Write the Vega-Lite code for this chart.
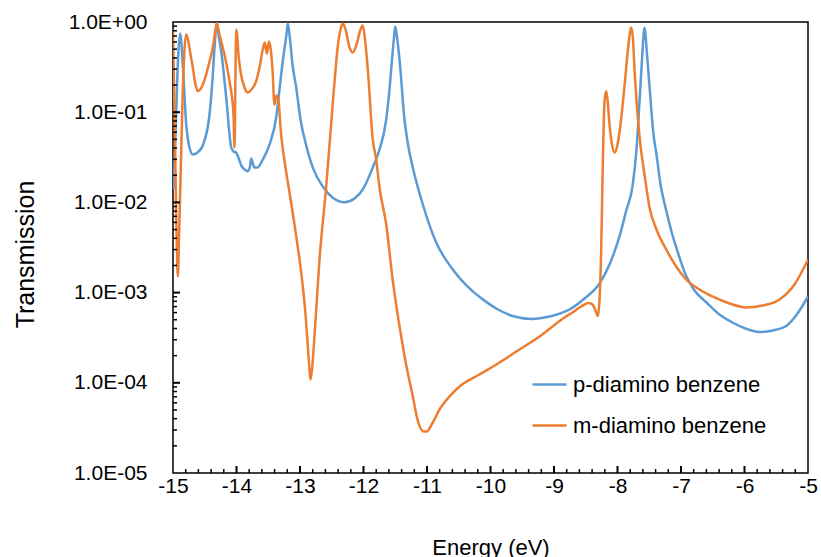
{
  "$schema": "https://vega.github.io/schema/vega-lite/v6.json",
  "autosize": "none",
  "padding": {"left": 173, "top": 22, "right": 13, "bottom": 84},
  "width": 635,
  "height": 451,
  "background": "white",
  "config": {
    "view": {"stroke": "black", "strokeWidth": 1.5},
    "font": "Liberation Sans"
  },
  "datasets": {
    "curves": [
      {"series": "p-diamino benzene", "energy": -14.992, "transmission": 0.0139},
      {"series": "p-diamino benzene", "energy": -14.953, "transmission": 0.083},
      {"series": "p-diamino benzene", "energy": -14.921, "transmission": 0.384},
      {"series": "p-diamino benzene", "energy": -14.887, "transmission": 0.746},
      {"series": "p-diamino benzene", "energy": -14.846, "transmission": 0.338},
      {"series": "p-diamino benzene", "energy": -14.792, "transmission": 0.0731},
      {"series": "p-diamino benzene", "energy": -14.74, "transmission": 0.0406},
      {"series": "p-diamino benzene", "energy": -14.688, "transmission": 0.034},
      {"series": "p-diamino benzene", "energy": -14.614, "transmission": 0.0357},
      {"series": "p-diamino benzene", "energy": -14.531, "transmission": 0.0428},
      {"series": "p-diamino benzene", "energy": -14.425, "transmission": 0.0943},
      {"series": "p-diamino benzene", "energy": -14.378, "transmission": 0.23},
      {"series": "p-diamino benzene", "energy": -14.346, "transmission": 0.522},
      {"series": "p-diamino benzene", "energy": -14.31, "transmission": 0.96},
      {"series": "p-diamino benzene", "energy": -14.276, "transmission": 0.673},
      {"series": "p-diamino benzene", "energy": -14.241, "transmission": 0.471},
      {"series": "p-diamino benzene", "energy": -14.162, "transmission": 0.1455},
      {"series": "p-diamino benzene", "energy": -14.083, "transmission": 0.0406},
      {"series": "p-diamino benzene", "energy": -14.047, "transmission": 0.0367},
      {"series": "p-diamino benzene", "energy": -14.008, "transmission": 0.0357},
      {"series": "p-diamino benzene", "energy": -13.976, "transmission": 0.0323},
      {"series": "p-diamino benzene", "energy": -13.926, "transmission": 0.0257},
      {"series": "p-diamino benzene", "energy": -13.874, "transmission": 0.0232},
      {"series": "p-diamino benzene", "energy": -13.822, "transmission": 0.0222},
      {"series": "p-diamino benzene", "energy": -13.787, "transmission": 0.025},
      {"series": "p-diamino benzene", "energy": -13.767, "transmission": 0.0307},
      {"series": "p-diamino benzene", "energy": -13.748, "transmission": 0.0277},
      {"series": "p-diamino benzene", "energy": -13.717, "transmission": 0.0244},
      {"series": "p-diamino benzene", "energy": -13.669, "transmission": 0.0244},
      {"series": "p-diamino benzene", "energy": -13.586, "transmission": 0.0299},
      {"series": "p-diamino benzene", "energy": -13.48, "transmission": 0.0438},
      {"series": "p-diamino benzene", "energy": -13.375, "transmission": 0.0873},
      {"series": "p-diamino benzene", "energy": -13.323, "transmission": 0.1786},
      {"series": "p-diamino benzene", "energy": -13.268, "transmission": 0.384},
      {"series": "p-diamino benzene", "energy": -13.217, "transmission": 0.691},
      {"series": "p-diamino benzene", "energy": -13.192, "transmission": 0.96},
      {"series": "p-diamino benzene", "energy": -13.157, "transmission": 0.64},
      {"series": "p-diamino benzene", "energy": -13.118, "transmission": 0.338},
      {"series": "p-diamino benzene", "energy": -13.06, "transmission": 0.188},
      {"series": "p-diamino benzene", "energy": -12.992, "transmission": 0.083},
      {"series": "p-diamino benzene", "energy": -12.902, "transmission": 0.0428},
      {"series": "p-diamino benzene", "energy": -12.787, "transmission": 0.0232},
      {"series": "p-diamino benzene", "energy": -12.641, "transmission": 0.015},
      {"series": "p-diamino benzene", "energy": -12.488, "transmission": 0.01133},
      {"series": "p-diamino benzene", "energy": -12.299, "transmission": 0.01005},
      {"series": "p-diamino benzene", "energy": -12.142, "transmission": 0.01105},
      {"series": "p-diamino benzene", "energy": -12.011, "transmission": 0.0139},
      {"series": "p-diamino benzene", "energy": -11.854, "transmission": 0.0244},
      {"series": "p-diamino benzene", "energy": -11.748, "transmission": 0.0386},
      {"series": "p-diamino benzene", "energy": -11.642, "transmission": 0.083},
      {"series": "p-diamino benzene", "energy": -11.591, "transmission": 0.1786},
      {"series": "p-diamino benzene", "energy": -11.551, "transmission": 0.384},
      {"series": "p-diamino benzene", "energy": -11.52, "transmission": 0.673},
      {"series": "p-diamino benzene", "energy": -11.501, "transmission": 0.892},
      {"series": "p-diamino benzene", "energy": -11.472, "transmission": 0.673},
      {"series": "p-diamino benzene", "energy": -11.433, "transmission": 0.384},
      {"series": "p-diamino benzene", "energy": -11.354, "transmission": 0.083},
      {"series": "p-diamino benzene", "energy": -11.291, "transmission": 0.0406},
      {"series": "p-diamino benzene", "energy": -11.224, "transmission": 0.0244},
      {"series": "p-diamino benzene", "energy": -11.066, "transmission": 0.00948},
      {"series": "p-diamino benzene", "energy": -10.855, "transmission": 0.00359},
      {"series": "p-diamino benzene", "energy": -10.594, "transmission": 0.0018},
      {"series": "p-diamino benzene", "energy": -10.279, "transmission": 0.00103},
      {"series": "p-diamino benzene", "energy": -10.1, "transmission": 0.00082},
      {"series": "p-diamino benzene", "energy": -9.91, "transmission": 0.000667},
      {"series": "p-diamino benzene", "energy": -9.622, "transmission": 0.000543},
      {"series": "p-diamino benzene", "energy": -9.339, "transmission": 0.00051},
      {"series": "p-diamino benzene", "energy": -9.071, "transmission": 0.000543},
      {"series": "p-diamino benzene", "energy": -8.9, "transmission": 0.000588},
      {"series": "p-diamino benzene", "energy": -8.756, "transmission": 0.00065},
      {"series": "p-diamino benzene", "energy": -8.52, "transmission": 0.00086},
      {"series": "p-diamino benzene", "energy": -8.283, "transmission": 0.00126},
      {"series": "p-diamino benzene", "energy": -8.126, "transmission": 0.00205},
      {"series": "p-diamino benzene", "energy": -7.969, "transmission": 0.00419},
      {"series": "p-diamino benzene", "energy": -7.858, "transmission": 0.00834},
      {"series": "p-diamino benzene", "energy": -7.764, "transmission": 0.015},
      {"series": "p-diamino benzene", "energy": -7.701, "transmission": 0.0386},
      {"series": "p-diamino benzene", "energy": -7.654, "transmission": 0.128},
      {"series": "p-diamino benzene", "energy": -7.614, "transmission": 0.384},
      {"series": "p-diamino benzene", "energy": -7.575, "transmission": 0.862},
      {"series": "p-diamino benzene", "energy": -7.535, "transmission": 0.436},
      {"series": "p-diamino benzene", "energy": -7.496, "transmission": 0.193},
      {"series": "p-diamino benzene", "energy": -7.433, "transmission": 0.0566},
      {"series": "p-diamino benzene", "energy": -7.386, "transmission": 0.034},
      {"series": "p-diamino benzene", "energy": -7.323, "transmission": 0.0158},
      {"series": "p-diamino benzene", "energy": -7.244, "transmission": 0.00878},
      {"series": "p-diamino benzene", "energy": -7.15, "transmission": 0.00476},
      {"series": "p-diamino benzene", "energy": -7.039, "transmission": 0.00265},
      {"series": "p-diamino benzene", "energy": -6.929, "transmission": 0.00159},
      {"series": "p-diamino benzene", "energy": -6.787, "transmission": 0.001055},
      {"series": "p-diamino benzene", "energy": -6.598, "transmission": 0.000777},
      {"series": "p-diamino benzene", "energy": -6.394, "transmission": 0.000572},
      {"series": "p-diamino benzene", "energy": -6.189, "transmission": 0.000466},
      {"series": "p-diamino benzene", "energy": -5.984, "transmission": 0.0004},
      {"series": "p-diamino benzene", "energy": -5.764, "transmission": 0.000366},
      {"series": "p-diamino benzene", "energy": -5.559, "transmission": 0.00038},
      {"series": "p-diamino benzene", "energy": -5.343, "transmission": 0.000426},
      {"series": "p-diamino benzene", "energy": -5.165, "transmission": 0.000586},
      {"series": "p-diamino benzene", "energy": -5, "transmission": 0.000906},
      {"series": "m-diamino benzene", "energy": -15, "transmission": 0.826},
      {"series": "m-diamino benzene", "energy": -14.969, "transmission": 0.0498},
      {"series": "m-diamino benzene", "energy": -14.945, "transmission": 0.00501},
      {"series": "m-diamino benzene", "energy": -14.924, "transmission": 0.00151},
      {"series": "m-diamino benzene", "energy": -14.906, "transmission": 0.00388},
      {"series": "m-diamino benzene", "energy": -14.882, "transmission": 0.01795},
      {"series": "m-diamino benzene", "energy": -14.85, "transmission": 0.138},
      {"series": "m-diamino benzene", "energy": -14.819, "transmission": 0.496},
      {"series": "m-diamino benzene", "energy": -14.792, "transmission": 0.727},
      {"series": "m-diamino benzene", "energy": -14.764, "transmission": 0.64},
      {"series": "m-diamino benzene", "energy": -14.732, "transmission": 0.471},
      {"series": "m-diamino benzene", "energy": -14.688, "transmission": 0.313},
      {"series": "m-diamino benzene", "energy": -14.646, "transmission": 0.203},
      {"series": "m-diamino benzene", "energy": -14.609, "transmission": 0.171},
      {"series": "m-diamino benzene", "energy": -14.551, "transmission": 0.188},
      {"series": "m-diamino benzene", "energy": -14.477, "transmission": 0.262},
      {"series": "m-diamino benzene", "energy": -14.425, "transmission": 0.365},
      {"series": "m-diamino benzene", "energy": -14.373, "transmission": 0.522},
      {"series": "m-diamino benzene", "energy": -14.339, "transmission": 0.765},
      {"series": "m-diamino benzene", "energy": -14.31, "transmission": 0.96},
      {"series": "m-diamino benzene", "energy": -14.268, "transmission": 0.727},
      {"series": "m-diamino benzene", "energy": -14.216, "transmission": 0.522},
      {"series": "m-diamino benzene", "energy": -14.157, "transmission": 0.338},
      {"series": "m-diamino benzene", "energy": -14.11, "transmission": 0.219},
      {"series": "m-diamino benzene", "energy": -14.071, "transmission": 0.1455},
      {"series": "m-diamino benzene", "energy": -14.047, "transmission": 0.0943},
      {"series": "m-diamino benzene", "energy": -14.031, "transmission": 0.0406},
      {"series": "m-diamino benzene", "energy": -14.019, "transmission": 0.1786},
      {"series": "m-diamino benzene", "energy": -14.005, "transmission": 0.826},
      {"series": "m-diamino benzene", "energy": -13.991, "transmission": 0.727},
      {"series": "m-diamino benzene", "energy": -13.969, "transmission": 0.436},
      {"series": "m-diamino benzene", "energy": -13.937, "transmission": 0.283},
      {"series": "m-diamino benzene", "energy": -13.874, "transmission": 0.188},
      {"series": "m-diamino benzene", "energy": -13.822, "transmission": 0.1654},
      {"series": "m-diamino benzene", "energy": -13.764, "transmission": 0.1786},
      {"series": "m-diamino benzene", "energy": -13.69, "transmission": 0.2207},
      {"series": "m-diamino benzene", "energy": -13.638, "transmission": 0.313},
      {"series": "m-diamino benzene", "energy": -13.586, "transmission": 0.496},
      {"series": "m-diamino benzene", "energy": -13.554, "transmission": 0.592},
      {"series": "m-diamino benzene", "energy": -13.523, "transmission": 0.447},
      {"series": "m-diamino benzene", "energy": -13.488, "transmission": 0.608},
      {"series": "m-diamino benzene", "energy": -13.465, "transmission": 0.522},
      {"series": "m-diamino benzene", "energy": -13.433, "transmission": 0.297},
      {"series": "m-diamino benzene", "energy": -13.402, "transmission": 0.1217},
      {"series": "m-diamino benzene", "energy": -13.37, "transmission": 0.1532},
      {"series": "m-diamino benzene", "energy": -13.346, "transmission": 0.1455},
      {"series": "m-diamino benzene", "energy": -13.296, "transmission": 0.0552},
      {"series": "m-diamino benzene", "energy": -13.236, "transmission": 0.0263},
      {"series": "m-diamino benzene", "energy": -13.165, "transmission": 0.01288},
      {"series": "m-diamino benzene", "energy": -13.06, "transmission": 0.00422},
      {"series": "m-diamino benzene", "energy": -12.956, "transmission": 0.001178},
      {"series": "m-diamino benzene", "energy": -12.913, "transmission": 0.000572},
      {"series": "m-diamino benzene", "energy": -12.877, "transmission": 0.000255},
      {"series": "m-diamino benzene", "energy": -12.85, "transmission": 0.00014},
      {"series": "m-diamino benzene", "energy": -12.835, "transmission": 0.0001088},
      {"series": "m-diamino benzene", "energy": -12.811, "transmission": 0.00014},
      {"series": "m-diamino benzene", "energy": -12.772, "transmission": 0.000329},
      {"series": "m-diamino benzene", "energy": -12.693, "transmission": 0.00233},
      {"series": "m-diamino benzene", "energy": -12.587, "transmission": 0.01512},
      {"series": "m-diamino benzene", "energy": -12.483, "transmission": 0.128},
      {"series": "m-diamino benzene", "energy": -12.433, "transmission": 0.338},
      {"series": "m-diamino benzene", "energy": -12.405, "transmission": 0.539},
      {"series": "m-diamino benzene", "energy": -12.362, "transmission": 0.826},
      {"series": "m-diamino benzene", "energy": -12.326, "transmission": 0.96},
      {"series": "m-diamino benzene", "energy": -12.283, "transmission": 0.826},
      {"series": "m-diamino benzene", "energy": -12.221, "transmission": 0.522},
      {"series": "m-diamino benzene", "energy": -12.169, "transmission": 0.459},
      {"series": "m-diamino benzene", "energy": -12.11, "transmission": 0.563},
      {"series": "m-diamino benzene", "energy": -12.047, "transmission": 0.826},
      {"series": "m-diamino benzene", "energy": -12.011, "transmission": 0.915},
      {"series": "m-diamino benzene", "energy": -11.976, "transmission": 0.64},
      {"series": "m-diamino benzene", "energy": -11.932, "transmission": 0.297},
      {"series": "m-diamino benzene", "energy": -11.854, "transmission": 0.0498},
      {"series": "m-diamino benzene", "energy": -11.8, "transmission": 0.0299},
      {"series": "m-diamino benzene", "energy": -11.748, "transmission": 0.01463},
      {"series": "m-diamino benzene", "energy": -11.642, "transmission": 0.00569},
      {"series": "m-diamino benzene", "energy": -11.539, "transmission": 0.00136},
      {"series": "m-diamino benzene", "energy": -11.409, "transmission": 0.000334},
      {"series": "m-diamino benzene", "energy": -11.323, "transmission": 0.0001517},
      {"series": "m-diamino benzene", "energy": -11.224, "transmission": 0.000071},
      {"series": "m-diamino benzene", "energy": -11.15, "transmission": 0.0000392},
      {"series": "m-diamino benzene", "energy": -11.066, "transmission": 0.0000291},
      {"series": "m-diamino benzene", "energy": -11.008, "transmission": 0.0000288},
      {"series": "m-diamino benzene", "energy": -10.909, "transmission": 0.0000363},
      {"series": "m-diamino benzene", "energy": -10.803, "transmission": 0.0000506},
      {"series": "m-diamino benzene", "energy": -10.646, "transmission": 0.0000705},
      {"series": "m-diamino benzene", "energy": -10.488, "transmission": 0.000091},
      {"series": "m-diamino benzene", "energy": -10.173, "transmission": 0.0001236},
      {"series": "m-diamino benzene", "energy": -9.858, "transmission": 0.000168},
      {"series": "m-diamino benzene", "energy": -9.543, "transmission": 0.000234},
      {"series": "m-diamino benzene", "energy": -9.228, "transmission": 0.000326},
      {"series": "m-diamino benzene", "energy": -9.019, "transmission": 0.000424},
      {"series": "m-diamino benzene", "energy": -8.835, "transmission": 0.00053},
      {"series": "m-diamino benzene", "energy": -8.709, "transmission": 0.000602},
      {"series": "m-diamino benzene", "energy": -8.598, "transmission": 0.000684},
      {"series": "m-diamino benzene", "energy": -8.52, "transmission": 0.000738},
      {"series": "m-diamino benzene", "energy": -8.452, "transmission": 0.000767},
      {"series": "m-diamino benzene", "energy": -8.394, "transmission": 0.000738},
      {"series": "m-diamino benzene", "energy": -8.346, "transmission": 0.000633},
      {"series": "m-diamino benzene", "energy": -8.31, "transmission": 0.00055},
      {"series": "m-diamino benzene", "energy": -8.283, "transmission": 0.000839},
      {"series": "m-diamino benzene", "energy": -8.257, "transmission": 0.00301},
      {"series": "m-diamino benzene", "energy": -8.236, "transmission": 0.01795},
      {"series": "m-diamino benzene", "energy": -8.216, "transmission": 0.083},
      {"series": "m-diamino benzene", "energy": -8.197, "transmission": 0.149},
      {"series": "m-diamino benzene", "energy": -8.178, "transmission": 0.171},
      {"series": "m-diamino benzene", "energy": -8.157, "transmission": 0.138},
      {"series": "m-diamino benzene", "energy": -8.126, "transmission": 0.0731},
      {"series": "m-diamino benzene", "energy": -8.087, "transmission": 0.0438},
      {"series": "m-diamino benzene", "energy": -8.047, "transmission": 0.0357},
      {"series": "m-diamino benzene", "energy": -8, "transmission": 0.0438},
      {"series": "m-diamino benzene", "energy": -7.953, "transmission": 0.0731},
      {"series": "m-diamino benzene", "energy": -7.89, "transmission": 0.193},
      {"series": "m-diamino benzene", "energy": -7.835, "transmission": 0.496},
      {"series": "m-diamino benzene", "energy": -7.784, "transmission": 0.869},
      {"series": "m-diamino benzene", "energy": -7.756, "transmission": 0.64},
      {"series": "m-diamino benzene", "energy": -7.732, "transmission": 0.297},
      {"series": "m-diamino benzene", "energy": -7.654, "transmission": 0.0538},
      {"series": "m-diamino benzene", "energy": -7.575, "transmission": 0.0204},
      {"series": "m-diamino benzene", "energy": -7.496, "transmission": 0.00878},
      {"series": "m-diamino benzene", "energy": -7.386, "transmission": 0.00501},
      {"series": "m-diamino benzene", "energy": -7.233, "transmission": 0.00301},
      {"series": "m-diamino benzene", "energy": -7.087, "transmission": 0.002},
      {"series": "m-diamino benzene", "energy": -6.918, "transmission": 0.001397},
      {"series": "m-diamino benzene", "energy": -6.709, "transmission": 0.001082},
      {"series": "m-diamino benzene", "energy": -6.504, "transmission": 0.000906},
      {"series": "m-diamino benzene", "energy": -6.236, "transmission": 0.000757},
      {"series": "m-diamino benzene", "energy": -5.973, "transmission": 0.000684},
      {"series": "m-diamino benzene", "energy": -5.717, "transmission": 0.000719},
      {"series": "m-diamino benzene", "energy": -5.449, "transmission": 0.000839},
      {"series": "m-diamino benzene", "energy": -5.213, "transmission": 0.00123},
      {"series": "m-diamino benzene", "energy": -5, "transmission": 0.00233}
    ],
    "xMajor": [
      {"energy": -14}, {"energy": -13}, {"energy": -12}, {"energy": -11}, {"energy": -10},
      {"energy": -9}, {"energy": -8}, {"energy": -7}, {"energy": -6}
    ],
    "xMinor": [
      {"energy": -14.8}, {"energy": -14.6}, {"energy": -14.4}, {"energy": -14.2},
      {"energy": -13.8}, {"energy": -13.6}, {"energy": -13.4}, {"energy": -13.2},
      {"energy": -12.8}, {"energy": -12.6}, {"energy": -12.4}, {"energy": -12.2},
      {"energy": -11.8}, {"energy": -11.6}, {"energy": -11.4}, {"energy": -11.2},
      {"energy": -10.8}, {"energy": -10.6}, {"energy": -10.4}, {"energy": -10.2},
      {"energy": -9.8}, {"energy": -9.6}, {"energy": -9.4}, {"energy": -9.2},
      {"energy": -8.8}, {"energy": -8.6}, {"energy": -8.4}, {"energy": -8.2},
      {"energy": -7.8}, {"energy": -7.6}, {"energy": -7.4}, {"energy": -7.2},
      {"energy": -6.8}, {"energy": -6.6}, {"energy": -6.4}, {"energy": -6.2},
      {"energy": -5.8}, {"energy": -5.6}, {"energy": -5.4}, {"energy": -5.2}
    ],
    "yMajor": [
      {"transmission": 0.0001}, {"transmission": 0.001}, {"transmission": 0.01}, {"transmission": 0.1}
    ],
    "yMinor": [
      {"transmission": 0.00002}, {"transmission": 0.00003}, {"transmission": 0.00004}, {"transmission": 0.00005},
      {"transmission": 0.00006}, {"transmission": 0.00007}, {"transmission": 0.00008}, {"transmission": 0.00009},
      {"transmission": 0.0002}, {"transmission": 0.0003}, {"transmission": 0.0004}, {"transmission": 0.0005},
      {"transmission": 0.0006}, {"transmission": 0.0007}, {"transmission": 0.0008}, {"transmission": 0.0009},
      {"transmission": 0.002}, {"transmission": 0.003}, {"transmission": 0.004}, {"transmission": 0.005},
      {"transmission": 0.006}, {"transmission": 0.007}, {"transmission": 0.008}, {"transmission": 0.009},
      {"transmission": 0.02}, {"transmission": 0.03}, {"transmission": 0.04}, {"transmission": 0.05},
      {"transmission": 0.06}, {"transmission": 0.07}, {"transmission": 0.08}, {"transmission": 0.09},
      {"transmission": 0.2}, {"transmission": 0.3}, {"transmission": 0.4}, {"transmission": 0.5},
      {"transmission": 0.6}, {"transmission": 0.7}, {"transmission": 0.8}, {"transmission": 0.9}
    ]
  },
  "layer": [
    {
      "data": {"name": "curves"},
      "transform": [{"filter": "datum.series == 'p-diamino benzene'"}],
      "mark": {"type": "line", "strokeWidth": 2.5, "interpolate": "monotone", "clip": true},
      "encoding": {
        "x": {
          "field": "energy",
          "type": "quantitative",
          "scale": {"domain": [-15, -5], "nice": false, "zero": false},
          "axis": {
            "orient": "bottom",
            "title": "Energy (eV)",
            "tickCount": 10,
            "labelExpr": "'' + datum.value",
            "ticks": false,
            "tickSize": 0,
            "domain": false,
            "grid": false,
            "labelFlush": false,
            "labelFont": "Liberation Sans",
            "labelFontSize": 21,
            "labelColor": "black",
            "labelPadding": 2,
            "titleFont": "Liberation Sans",
            "titleFontSize": 22,
            "titleFontWeight": "normal",
            "titleColor": "black",
            "titleY": 74,
            "titleBaseline": "middle"
          }
        },
        "y": {
          "field": "transmission",
          "type": "quantitative",
          "scale": {"type": "log", "domain": [0.00001, 1], "nice": false},
          "axis": {
            "orient": "left",
            "title": "Transmission",
            "tickCount": 5,
            "labelExpr": "'1.0E' + (round(log(datum.value)/LN10) >= 0 ? '+' : '-') + '0' + abs(round(log(datum.value)/LN10))",
            "ticks": false,
            "tickSize": 0,
            "domain": false,
            "grid": false,
            "labelFont": "Liberation Sans",
            "labelFontSize": 21,
            "labelColor": "black",
            "labelPadding": 26,
            "titleFont": "Liberation Sans",
            "titleFontSize": 25,
            "titleFontWeight": "normal",
            "titleColor": "black",
            "titleX": -148,
            "titleY": 232,
            "titleBaseline": "middle",
            "titleAlign": "center"
          }
        },
        "color": {
          "field": "series",
          "type": "nominal",
          "scale": {"domain": ["p-diamino benzene", "m-diamino benzene"], "range": ["#5B9BD5", "#ED7D31"]},
          "legend": {
            "title": null,
            "orient": "none",
            "legendX": 358,
            "legendY": 344,
            "symbolType": "stroke",
            "symbolSize": 1156,
            "symbolStrokeWidth": 2.5,
            "labelFont": "Liberation Sans",
            "labelFontSize": 22,
            "labelColor": "black",
            "labelOffset": 5,
            "rowPadding": 11,
            "labelLimit": 300
          }
        }
      }
    },
    {
      "data": {"name": "curves"},
      "transform": [{"filter": "datum.series == 'm-diamino benzene'"}],
      "mark": {"type": "line", "strokeWidth": 2.5, "interpolate": "monotone", "clip": true},
      "encoding": {
        "x": {"field": "energy", "type": "quantitative"},
        "y": {"field": "transmission", "type": "quantitative"},
        "color": {"field": "series", "type": "nominal"}
      }
    },
    {
      "data": {"name": "xMajor"},
      "mark": {"type": "tick", "orient": "vertical", "size": 7, "thickness": 2, "color": "black", "opacity": 1, "yOffset": -3.5},
      "encoding": {
        "x": {"field": "energy", "type": "quantitative"},
        "y": {"datum": 0.00001, "type": "quantitative"}
      }
    },
    {
      "data": {"name": "xMinor"},
      "mark": {"type": "tick", "orient": "vertical", "size": 4, "thickness": 1.5, "color": "black", "opacity": 1, "yOffset": -2},
      "encoding": {
        "x": {"field": "energy", "type": "quantitative"},
        "y": {"datum": 0.00001, "type": "quantitative"}
      }
    },
    {
      "data": {"name": "yMajor"},
      "mark": {"type": "tick", "orient": "horizontal", "size": 7, "thickness": 2, "color": "black", "opacity": 1, "xOffset": 3.5},
      "encoding": {
        "y": {"field": "transmission", "type": "quantitative"},
        "x": {"datum": -15, "type": "quantitative"}
      }
    },
    {
      "data": {"name": "yMinor"},
      "mark": {"type": "tick", "orient": "horizontal", "size": 4, "thickness": 1.5, "color": "black", "opacity": 1, "xOffset": 2},
      "encoding": {
        "y": {"field": "transmission", "type": "quantitative"},
        "x": {"datum": -15, "type": "quantitative"}
      }
    }
  ]
}
